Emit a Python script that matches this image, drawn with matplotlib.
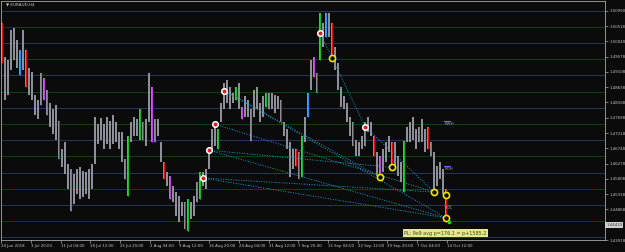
import matplotlib
matplotlib.use('Agg')
import matplotlib.pyplot as plt
import numpy as np

# ---------------- data ----------------
highs = [1.5062, 1.4958, 1.4948, 1.5041, 1.5047, 1.5010, 1.4979, 1.5041, 1.4979, 1.4924,
         1.4912, 1.4841, 1.4825, 1.4908, 1.4893, 1.4856, 1.4816, 1.4795, 1.4810, 1.4758,
         1.4672, 1.4693, 1.4626, 1.4610, 1.4595, 1.4610, 1.4616, 1.4604, 1.4601, 1.4610,
         1.4626, 1.4773, 1.4749, 1.4770, 1.4749, 1.4773, 1.4758, 1.4779, 1.4755, 1.4724,
         1.4724, 1.4641, 1.4712, 1.4755, 1.4773, 1.4764, 1.4795, 1.4755, 1.4764, 1.4908,
         1.4865, 1.4764, 1.4764, 1.4693, 1.4632, 1.4601, 1.4589, 1.4558, 1.4540, 1.4527,
         1.4509, 1.4509, 1.4518, 1.4509, 1.4527, 1.4570, 1.4601, 1.4601, 1.4610, 1.4672,
         1.4733, 1.4755, 1.4733, 1.4816, 1.4878, 1.4887, 1.4865, 1.4847, 1.4865, 1.4878,
         1.4804, 1.4835, 1.4825, 1.4795, 1.4856, 1.4865, 1.4816, 1.4835, 1.4847, 1.4847,
         1.4847, 1.4841, 1.4835, 1.4825, 1.4755, 1.4733, 1.4693, 1.4672, 1.4672, 1.4662,
         1.4712, 1.4773, 1.4847, 1.4948, 1.4958, 1.4908, 1.5093, 1.5062, 1.5093, 1.5093,
         1.5062, 1.4988, 1.4939, 1.4865, 1.4835, 1.4816, 1.4773, 1.4755, 1.4702, 1.4693,
         1.4712, 1.4755, 1.4773, 1.4755, 1.4712, 1.4662, 1.4650, 1.4672, 1.4693, 1.4712,
         1.4693, 1.4693, 1.4650, 1.4632, 1.4696, 1.4742, 1.4755, 1.4773, 1.4733, 1.4742,
         1.4764, 1.4733, 1.4742, 1.4693, 1.4662, 1.4619, 1.4632, 1.4610, 1.4549]

lows = [1.4939, 1.4825, 1.4841, 1.4918, 1.4948, 1.4924, 1.4902, 1.4918, 1.4865, 1.4841,
        1.4825, 1.4779, 1.4764, 1.4810, 1.4825, 1.4779, 1.4742, 1.4718, 1.4702, 1.4641,
        1.4616, 1.4595, 1.4549, 1.4481, 1.4503, 1.4533, 1.4518, 1.4524, 1.4533, 1.4518,
        1.4549, 1.4626, 1.4687, 1.4702, 1.4672, 1.4687, 1.4672, 1.4687, 1.4693, 1.4672,
        1.4632, 1.4580, 1.4527, 1.4693, 1.4712, 1.4712, 1.4702, 1.4702, 1.4681, 1.4755,
        1.4693, 1.4693, 1.4712, 1.4632, 1.4580, 1.4558, 1.4518, 1.4509, 1.4466, 1.4447,
        1.4466, 1.4426, 1.4420, 1.4457, 1.4466, 1.4509, 1.4518, 1.4558, 1.4549, 1.4610,
        1.4662, 1.4681, 1.4672, 1.4755, 1.4795, 1.4816, 1.4795, 1.4816, 1.4825, 1.4795,
        1.4764, 1.4773, 1.4773, 1.4696, 1.4773, 1.4795, 1.4755, 1.4773, 1.4804, 1.4795,
        1.4795, 1.4785, 1.4795, 1.4755, 1.4712, 1.4672, 1.4586, 1.4610, 1.4619, 1.4580,
        1.4586, 1.4693, 1.4773, 1.4856, 1.4896, 1.4847, 1.4948, 1.4988, 1.5019, 1.5019,
        1.4958, 1.4918, 1.4856, 1.4804, 1.4795, 1.4755, 1.4712, 1.4681, 1.4650, 1.4650,
        1.4672, 1.4681, 1.4724, 1.4712, 1.4650, 1.4589, 1.4589, 1.4601, 1.4632, 1.4662,
        1.4619, 1.4619, 1.4589, 1.4570, 1.4540, 1.4693, 1.4693, 1.4702, 1.4672, 1.4693,
        1.4693, 1.4662, 1.4672, 1.4650, 1.4549, 1.4558, 1.4580, 1.4533, 1.4460]

hl_idx = [0, 6, 8, 13, 14, 15, 19, 23, 41, 42,
          46, 47, 50, 51, 54, 56, 61, 62, 65, 66,
          72, 78, 80, 83, 88, 89, 93, 98, 99, 100,
          102, 104, 105, 106, 108, 110, 117, 121, 124, 126,
          130, 134, 139, 142, 143, 148]
hl_kind = ['r', 'b', 'r', 'b', 'm', 'm', 'r', 'm', 'b', 'g',
           'g', 'r', 'm', 'b', 'r', 'm', 'r', 'g', 'b', 'g',
           'g', 'g', 'm', 'g', 'g', 'm', 'r', 'r', 'r', 'g',
           'b', 'm', 'r', 'g', 'b', 'r', 'r', 'b', 'r', 'm',
           'r', 'g', 'g', 'r', 'm', 'r']

white_idx = [67, 69, 71, 74, 106, 121]
white_price = [1.4583, 1.4669, 1.4749, 1.4853, 1.5031, 1.4742]
yellow_idx = [110, 126, 130, 144, 148, 148]
yellow_price = [1.4955, 1.4586, 1.4616, 1.4540, 1.4530, 1.4460]
# (white marker, target kind, target index)
links = [(0, 'y', 3), (0, 'y', 5), (1, 'y', 2), (1, 'y', 5), (2, 'y', 3),
         (3, 'y', 1), (3, 'y', 5), (4, 'w', 5), (5, 'y', 3)]

levels_blue = [1.44, 1.45, 1.46, 1.47, 1.48, 1.49, 1.50, 1.51]
levels_green = [1.445, 1.455, 1.465, 1.475, 1.485, 1.495, 1.505]

pivot_names = ['PWH', 'PDH', 'PDL']
pivot_price = [1.4758, 1.4620, 1.4499]
pivot_kind = ['b', 'b', 'r']

ytick_vals = [1.50990, 1.50518, 1.50048, 1.49578, 1.49108, 1.48638, 1.48168,
              1.47698, 1.47218, 1.46748, 1.46278, 1.45808, 1.45338, 1.44868, 1.43918]
date_labels = ['24 Jun 2018', '3 Jul 20:00', '11 Jul 04:00', '18 Jul 12:00',
               '25 Jul 20:00', '2 Aug 04:00', '9 Aug 12:00', '16 Aug 20:00',
               '24 Aug 04:00', '31 Aug 12:00', '7 Sep 20:00', '15 Sep 04:00',
               '22 Sep 12:00', '29 Sep 20:00', '7 Oct 04:00', '14 Oct 12:00']
bars_per_label = 9.907

current_price = 1.44383
current_label = '1.44433'
pl_text = 'PL: 9x9 avg p=176.1 = p+1585.2'
title = '\u25bc EURAUD,H4'

# ---------------- styling ----------------
BG = '#0b0b0b'
kind_col = {'r': '#e01010', 'b': '#2090ff', 'g': '#10c020', 'm': '#c040e0'}

fig = plt.figure(figsize=(6.25, 2.52), dpi=100, facecolor=BG)
ax = fig.add_axes([1 / 625, 12 / 252, 604 / 625, 239 / 252])
ax.set_facecolor(BG)
ax.set_xlim(-0.4, 201.0)
ax.set_ylim(1.4394825, 1.512975)

for lv in levels_blue:
    ax.axhline(lv, color='#25385a', lw=0.7, zorder=1)
for lv in levels_green:
    ax.axhline(lv, color='#0e430e', lw=0.7, zorder=1)

x = np.arange(len(highs))
ax.vlines(x, lows, highs, color='#8a8a96', lw=1.3, zorder=2)
ax.vlines(x, lows, highs, color='#c8c8d0', lw=0.35, zorder=3)
for i, k in zip(hl_idx, hl_kind):
    ax.vlines(i, lows[i], highs[i], color=kind_col[k], lw=0.75, zorder=4)

wx = np.array(white_idx, dtype=float)
wy = np.array(white_price)
yx = np.array(yellow_idx, dtype=float)
yy = np.array(yellow_price)
for a, kind, b in links:
    if kind == 'y':
        x2, y2 = yx[b], yy[b]
    else:
        x2, y2 = wx[b], wy[b]
    ax.plot([wx[a], x2], [wy[a], y2], color='#1e9ac8', lw=0.7,
            linestyle=(0, (1, 1.6)), zorder=5)

ax.plot(wx, wy, 'o', ms=4.0, mfc='#e02020', mec='white', mew=1.1, zorder=6, ls='none')
ax.plot(yx, yy, 'o', ms=4.4, mfc=BG, mec='#f2e400', mew=1.2, zorder=6, ls='none')
ax.plot([len(highs)], [1.4447], 's', ms=1.6, color='#20d020', zorder=6)

for name, p, k in zip(pivot_names, pivot_price, pivot_kind):
    ax.plot([len(highs) - 1.8, len(highs) + 0.2], [p, p], color='#6a6ae0' if k == 'b' else '#e02020',
            lw=0.8, zorder=6)
    ax.text(len(highs) - 1.5, p - 0.0009, name, fontsize=3.0, color='#a0a0a8',
            ha='left', va='center', zorder=7)

ax.text(len(highs) - 1.2, 1.4413, pl_text, fontsize=3.5, color='#3c4a10', ha='center',
        va='center', zorder=8,
        bbox=dict(boxstyle='square,pad=0.3', fc='#e6e690', ec='none'))

# axes / ticks
for s in ax.spines.values():
    s.set_color('#a8a8a8')
    s.set_linewidth(0.6)
ax.yaxis.tick_right()
ax.set_yticks(ytick_vals)
ax.set_yticklabels(['%.5f' % v for v in ytick_vals])
ax.tick_params(axis='y', length=2, width=0.5, color='#a8a8a8', pad=1.2,
               labelsize=2.8, labelcolor='#c8c8c8')
tick_pos = [k * bars_per_label - 0.33 for k in range(len(date_labels))]
ax.set_xticks(tick_pos)
ax.set_xticklabels(date_labels)
ax.tick_params(axis='x', length=2, width=0.5, color='#a8a8a8', pad=1.2,
               labelsize=2.8, labelcolor='#c8c8c8')
for lab in ax.get_xticklabels():
    lab.set_ha('left')

ax.text(1.002, current_price, current_label, transform=ax.get_yaxis_transform(),
        fontsize=2.8, color='#303030', ha='left', va='center',
        bbox=dict(boxstyle='square,pad=0.25', fc='#cfcfcf', ec='none'), clip_on=False)

fig.text(6 / 625, 1 - 5 / 252, title, fontsize=3.0, color='#c8c8c8', ha='left', va='center')

fig.savefig('out.png', dpi=100, facecolor=BG)
